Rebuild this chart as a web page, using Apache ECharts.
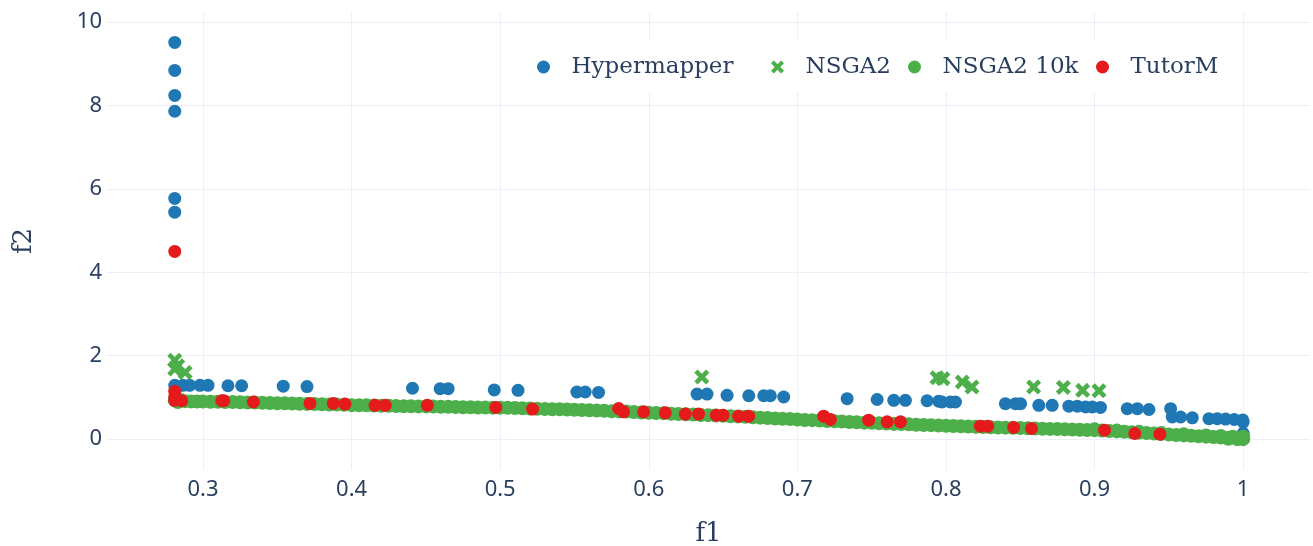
<!DOCTYPE html>
<html>
<head>
<meta charset="utf-8">
<title>f1 / f2</title>
<script src="https://cdn.jsdelivr.net/npm/echarts@6/dist/echarts.min.js"></script>
<style>
  html, body { margin: 0; padding: 0; background: #fff; }
  #main { width: 1313px; height: 546px; }
</style>
</head>
<body>
<div id="main"></div>
<script>
// 数据
var seriesNames = ['Hypermapper', 'NSGA2', 'NSGA2 10k', 'TutorM'];

var hypermapper = [
	[0.281, 9.51], [0.281, 8.84], [0.281, 8.24], [0.281, 7.86], [0.281, 5.77], [0.281, 5.44],
	[0.281, 1.29], [0.2865, 1.29], [0.291, 1.29], [0.298, 1.29], [0.3034, 1.29],
	[0.3168, 1.28], [0.326, 1.28], [0.354, 1.27], [0.370, 1.26],
	[0.441, 1.22], [0.4596, 1.21], [0.465, 1.21], [0.496, 1.18], [0.512, 1.17],
	[0.5516, 1.13], [0.5572, 1.13], [0.5662, 1.12],
	[0.6325, 1.08], [0.6392, 1.08], [0.6527, 1.05], [0.6673, 1.04], [0.6774, 1.04],
	[0.6818, 1.04], [0.6908, 1.01], [0.7335, 0.97], [0.7537, 0.95], [0.7649, 0.93],
	[0.7727, 0.93], [0.7873, 0.92], [0.7951, 0.91], [0.7974, 0.89], [0.803, 0.89],
	[0.8064, 0.89], [0.840, 0.85], [0.8468, 0.85], [0.8502, 0.85], [0.8625, 0.81],
	[0.8715, 0.81], [0.8827, 0.79], [0.8884, 0.79], [0.894, 0.77], [0.8985, 0.77],
	[0.904, 0.76], [0.922, 0.73], [0.9288, 0.73], [0.9366, 0.71], [0.9512, 0.73],
	[0.9523, 0.53], [0.9579, 0.53], [0.9658, 0.51], [0.977, 0.49], [0.9826, 0.49],
	[0.9882, 0.48], [0.994, 0.47], [0.9997, 0.46], [1.0, 0.41], [1.0, 0.14]
];

var nsga2 = [
	[0.281, 1.89], [0.283, 1.76], [0.281, 1.68], [0.288, 1.60],
	[0.6357, 1.49], [0.794, 1.47], [0.798, 1.45], [0.811, 1.37], [0.8175, 1.25],
	[0.859, 1.25], [0.879, 1.24], [0.892, 1.17], [0.903, 1.16]
];

var nsga2_10k = [
	[0.281, 0.93], [0.284, 0.91], [0.288, 0.91], [0.292, 0.905], [0.296, 0.90],
	[0.300, 0.90], [0.305, 0.895], [0.310, 0.895], [0.315, 0.89], [0.320, 0.89],
	[0.325, 0.885], [0.330, 0.88], [0.335, 0.88], [0.340, 0.87], [0.345, 0.865],
	[0.350, 0.86], [0.355, 0.86], [0.360, 0.855], [0.365, 0.85], [0.370, 0.845],
	[0.375, 0.84], [0.380, 0.835], [0.385, 0.83], [0.390, 0.83], [0.395, 0.825],
	[0.400, 0.815], [0.405, 0.81], [0.410, 0.81], [0.415, 0.805], [0.420, 0.80],
	[0.425, 0.80], [0.430, 0.795], [0.435, 0.79], [0.440, 0.79], [0.445, 0.785],
	[0.450, 0.785], [0.455, 0.78], [0.460, 0.775], [0.465, 0.775], [0.470, 0.77],
	[0.475, 0.765], [0.480, 0.765], [0.485, 0.76], [0.490, 0.76], [0.495, 0.755],
	[0.500, 0.755], [0.505, 0.75], [0.510, 0.745], [0.515, 0.74], [0.520, 0.735],
	[0.525, 0.73], [0.530, 0.72], [0.535, 0.715], [0.540, 0.715], [0.545, 0.71],
	[0.550, 0.705], [0.555, 0.70], [0.560, 0.69], [0.565, 0.685], [0.570, 0.68],
	[0.575, 0.67], [0.580, 0.665], [0.585, 0.66], [0.590, 0.65], [0.595, 0.64],
	[0.600, 0.63], [0.605, 0.625], [0.610, 0.62], [0.615, 0.61], [0.620, 0.60],
	[0.625, 0.595], [0.630, 0.59], [0.635, 0.58], [0.640, 0.575], [0.645, 0.565],
	[0.650, 0.56], [0.655, 0.55], [0.660, 0.545], [0.665, 0.535], [0.670, 0.525],
	[0.675, 0.515], [0.680, 0.505], [0.685, 0.495], [0.690, 0.49], [0.695, 0.48],
	[0.700, 0.47], [0.705, 0.46], [0.710, 0.455], [0.715, 0.445], [0.720, 0.435],
	[0.725, 0.43], [0.730, 0.42], [0.735, 0.41], [0.740, 0.405], [0.745, 0.395],
	[0.750, 0.39], [0.755, 0.38], [0.760, 0.375], [0.765, 0.365], [0.770, 0.36],
	[0.775, 0.355], [0.780, 0.345], [0.785, 0.34], [0.790, 0.335], [0.795, 0.325],
	[0.800, 0.32], [0.805, 0.315], [0.810, 0.31], [0.815, 0.30], [0.820, 0.295],
	[0.825, 0.29], [0.830, 0.285], [0.835, 0.28], [0.840, 0.275], [0.845, 0.27],
	[0.850, 0.265], [0.855, 0.26], [0.860, 0.255], [0.865, 0.25], [0.870, 0.245],
	[0.875, 0.24], [0.880, 0.235], [0.885, 0.23], [0.890, 0.225], [0.895, 0.22],
	[0.900, 0.215], [0.905, 0.205], [0.910, 0.195], [0.915, 0.185], [0.920, 0.175],
	[0.925, 0.165], [0.930, 0.155], [0.935, 0.145], [0.940, 0.135], [0.945, 0.125],
	[0.950, 0.11], [0.955, 0.10], [0.960, 0.09], [0.965, 0.08], [0.970, 0.07],
	[0.975, 0.06], [0.980, 0.05], [0.985, 0.04], [0.990, 0.035], [0.995, 0.025],
	[1.000, 0.015], [1.000, 0.0], [1.000, 0.06], [0.996, 0.0], [0.990, 0.01],
	[0.975, 0.09], [0.985, 0.075], [0.993, 0.06], [0.960, 0.115], [0.945, 0.145],
	[0.930, 0.175], [0.915, 0.205], [0.900, 0.235], [0.285, 0.94], [0.283, 0.89]
];

var tutorM = [
	[0.281, 4.50], [0.281, 1.15], [0.281, 1.01], [0.281, 0.93], [0.2857, 0.92],
	[0.3126, 0.92], [0.314, 0.92], [0.3339, 0.89], [0.372, 0.855], [0.3877, 0.855],
	[0.3956, 0.84], [0.4158, 0.81], [0.4226, 0.81], [0.451, 0.81], [0.4971, 0.76],
	[0.5218, 0.72], [0.5797, 0.735], [0.583, 0.655], [0.5966, 0.655], [0.6111, 0.63],
	[0.6246, 0.60], [0.6335, 0.60], [0.6455, 0.575], [0.65, 0.575], [0.6605, 0.55],
	[0.6672, 0.55], [0.7177, 0.55], [0.7222, 0.47], [0.748, 0.455], [0.7604, 0.415],
	[0.7694, 0.415], [0.8232, 0.31], [0.8281, 0.31], [0.8456, 0.28], [0.8576, 0.255],
	[0.9067, 0.215], [0.9271, 0.135], [0.944, 0.12]
];

var xRange = [0.2354, 1.045];
var yRange = [-0.74, 10.24];

var textColor = '#2a3f5f';
var gridColor = '#ebf0f8';
var crossPath = 'path://M0,2.2 L2.2,0 L5,2.8 L7.8,0 L10,2.2 L7.2,5 L10,7.8 L7.8,10 L5,7.2 L2.2,10 L0,7.8 L2.8,5 Z';

function legendAt(name, left) {
	return {
		data: [name],
		left: left,
		top: 55,
		padding: 0,
		itemWidth: 46,
		itemHeight: 13,
		textStyle: {
			color: textColor,
			fontFamily: 'DejaVu Serif',
			fontSize: 23,
			lineHeight: 24
		}
	};
}

var option = {
	backgroundColor: '#fff',
	animation: false,
	grid: {
		left: 107,
		right: 3,
		top: 12,
		bottom: 76,
		containLabel: false,
		outerBoundsMode: 'none'
	},
	graphic: [{
		type: 'rect',
		left: 530,
		top: 40,
		z: 1,
		shape: { width: 710, height: 52 },
		style: { fill: '#fff' }
	}],
	legend: [
		legendAt('Hypermapper', 537),
		legendAt('NSGA2', 771),
		legendAt('NSGA2 10k', 908),
		legendAt('TutorM', 1096)
	],
	xAxis: {
		type: 'value',
		min: xRange[0],
		max: xRange[1],
		splitNumber: 8,
		name: 'f1',
		nameLocation: 'middle',
		nameGap: 51,
		nameTextStyle: { color: textColor, fontFamily: 'DejaVu Serif', fontSize: 26, lineHeight: 26 },
		axisLine: { show: false },
		axisTick: { show: false },
		axisLabel: {
			color: textColor,
			fontFamily: 'Noto Sans',
			fontSize: 22,
			margin: 9,
			showMinLabel: false,
			showMaxLabel: false
		},
		splitLine: {
			show: true,
			showMinLine: false,
			showMaxLine: false,
			lineStyle: { color: gridColor, width: 1 }
		}
	},
	yAxis: {
		type: 'value',
		min: yRange[0],
		max: yRange[1],
		splitNumber: 5,
		name: 'f2',
		nameLocation: 'middle',
		nameGap: 70,
		nameRotate: 90,
		nameTextStyle: { color: textColor, fontFamily: 'DejaVu Serif', fontSize: 26, lineHeight: 26 },
		axisLine: { show: false },
		axisTick: { show: false },
		axisLabel: {
			color: textColor,
			fontFamily: 'Noto Sans',
			fontSize: 22,
			margin: 5,
			showMinLabel: false,
			showMaxLabel: false
		},
		splitLine: {
			show: true,
			showMinLine: false,
			showMaxLine: false,
			lineStyle: { color: gridColor, width: 1 }
		}
	},
	series: [{
		name: seriesNames[0],
		type: 'scatter',
		symbol: 'circle',
		symbolSize: 13,
		itemStyle: { color: '#1f77b4', opacity: 1 },
		data: hypermapper
	}, {
		name: seriesNames[1],
		type: 'scatter',
		symbol: crossPath,
		symbolSize: 15,
		itemStyle: { color: '#4daf4a', opacity: 1 },
		data: nsga2
	}, {
		name: seriesNames[2],
		type: 'scatter',
		symbol: 'circle',
		symbolSize: 14,
		itemStyle: { color: '#4daf4a', opacity: 1 },
		data: nsga2_10k
	}, {
		name: seriesNames[3],
		type: 'scatter',
		symbol: 'circle',
		symbolSize: 13,
		itemStyle: { color: '#e41a1c', opacity: 1 },
		data: tutorM
	}]
};

var chart = echarts.init(document.getElementById('main'));
chart.setOption(option);
</script>
</body>
</html>
